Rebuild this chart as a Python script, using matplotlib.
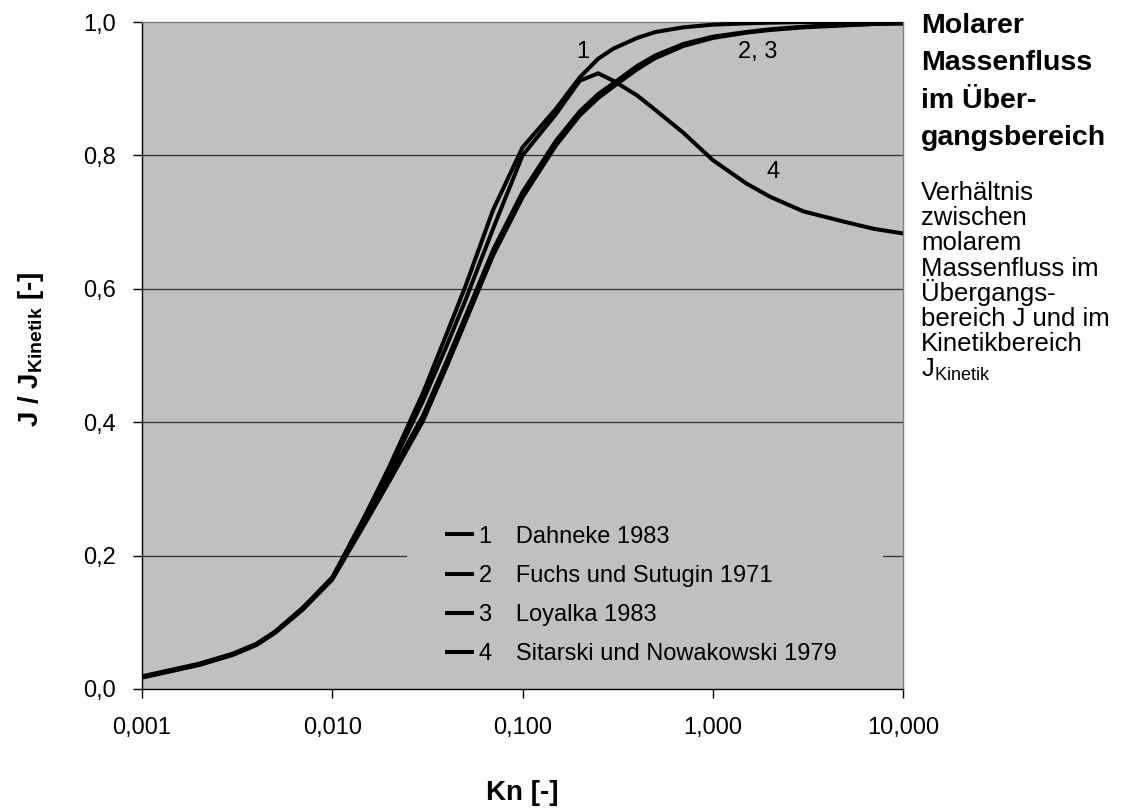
import matplotlib
matplotlib.use("Agg")
import matplotlib.pyplot as plt
from matplotlib.ticker import FixedLocator, FuncFormatter, NullLocator
from matplotlib.patches import Rectangle
from matplotlib.lines import Line2D

plt.rcParams["font.family"] = ["Liberation Sans", "DejaVu Sans"]
plt.rcParams["mathtext.fontset"] = "custom"
plt.rcParams["mathtext.rm"] = "Liberation Sans"
plt.rcParams["mathtext.bf"] = "Liberation Sans:bold"
plt.rcParams["mathtext.it"] = "Liberation Sans:italic"

# Knudsen numbers and flux ratios J / J_Kinetik for the four models
kn = [0.001, 0.002, 0.003, 0.004, 0.005, 0.007, 0.01, 0.015, 0.02, 0.03, 0.04,
      0.05, 0.07, 0.1, 0.15, 0.2, 0.25, 0.3, 0.4, 0.5, 0.7, 1, 1.5, 2, 3, 5, 7, 10]

dahneke = [0.018, 0.037, 0.052, 0.067, 0.085, 0.121, 0.167, 0.262, 0.334, 0.444,
           0.533, 0.603, 0.718, 0.812, 0.870, 0.917, 0.945, 0.960, 0.976, 0.985,
           0.992, 0.996, 0.998, 0.999, 1.000, 1.000, 1.000, 1.000]
fuchs_sutugin = [0.019, 0.038, 0.053, 0.068, 0.086, 0.122, 0.167, 0.256, 0.319, 0.410,
                 0.492, 0.558, 0.658, 0.745, 0.822, 0.866, 0.892, 0.908, 0.934, 0.950,
                 0.967, 0.978, 0.985, 0.989, 0.993, 0.996, 0.997, 0.998]
loyalka = [0.017, 0.036, 0.051, 0.066, 0.084, 0.119, 0.164, 0.250, 0.312, 0.402,
           0.484, 0.550, 0.650, 0.737, 0.815, 0.860, 0.886, 0.903, 0.929, 0.946,
           0.964, 0.976, 0.984, 0.988, 0.992, 0.995, 0.997, 0.998]
sitarski = [0.018, 0.037, 0.052, 0.067, 0.085, 0.121, 0.166, 0.260, 0.328, 0.432,
            0.515, 0.582, 0.690, 0.800, 0.862, 0.912, 0.923, 0.912, 0.890, 0.868,
            0.834, 0.793, 0.758, 0.738, 0.716, 0.700, 0.690, 0.683]

series = [dahneke, fuchs_sutugin, loyalka, sitarski]
legend_names = ["Dahneke 1983", "Fuchs und Sutugin 1971", "Loyalka 1983",
                "Sitarski und Nowakowski 1979"]

x_ticks = [0.001, 0.01, 0.1, 1, 10]
y_ticks = [0.0, 0.2, 0.4, 0.6, 0.8, 1.0]

title_lines = ["Molarer", "Massenfluss", "im Über-", "gangsbereich"]
body_lines = ["Verhältnis", "zwischen", "molarem", "Massenfluss im", "Übergangs-",
              "bereich J und im", "Kinetikbereich", r"J$_{\mathrm{Kinetik}}$"]

SILVER = "#C0C0C0"
W, H = 1122, 808

fig = plt.figure(figsize=(W / 100, H / 100), dpi=100)
fig.patch.set_facecolor("white")
ax = fig.add_axes([142 / W, 119 / H, 761 / W, 667 / H])
ax.set_facecolor(SILVER)

ax.set_xscale("log")
ax.set_xlim(x_ticks[0], x_ticks[-1])
ax.set_ylim(y_ticks[0], y_ticks[-1])

# horizontal gridlines (inner ticks only)
for yv in y_ticks[1:-1]:
    ax.axhline(yv, color="#303030", lw=0.9, zorder=1)

# legend background hides the gridline behind it
ax.add_patch(Rectangle((0.348, 0.0), 0.626, 0.30, transform=ax.transAxes,
                       facecolor=SILVER, edgecolor="none", zorder=1.2))

for vals in series:
    ax.plot(kn, vals, color="black", lw=2.9, solid_joinstyle="miter",
            solid_capstyle="butt", zorder=3)

ax.xaxis.set_major_locator(FixedLocator(x_ticks))
ax.xaxis.set_minor_locator(NullLocator())
ax.xaxis.set_major_formatter(FuncFormatter(lambda v, p: f"{v:.3f}".replace(".", ",")))
ax.yaxis.set_major_locator(FixedLocator(y_ticks))
ax.yaxis.set_major_formatter(FuncFormatter(lambda v, p: f"{v:.1f}".replace(".", ",")))
ax.tick_params(axis="both", which="major", direction="out", length=6.5, width=1.0,
               color="black", labelsize=17)
ax.tick_params(axis="x", pad=14)
ax.tick_params(axis="y", pad=12)

for side in ("left", "bottom"):
    ax.spines[side].set_color("black")
    ax.spines[side].set_linewidth(1.0)
for side in ("top", "right"):
    ax.spines[side].set_color("#808080")
    ax.spines[side].set_linewidth(1.0)

ax.set_xlabel("Kn [-]", fontsize=20, fontweight="bold", labelpad=29)
ax.set_ylabel(r"J / J$_{\mathbf{Kinetik}}$ [-]", fontsize=20, fontweight="bold",
              labelpad=27)
ax.yaxis.label.set_y(0.51)

# curve numbers
ax.text(0.208, 0.955, "1", fontsize=17, ha="center", va="center", zorder=4)
ax.text(1.73, 0.955, "2, 3", fontsize=17, ha="center", va="center", zorder=4)
ax.text(2.07, 0.775, "4", fontsize=17, ha="center", va="center", zorder=4)

handles = [Line2D([], [], color="black", lw=2.9, solid_capstyle="butt") for _ in series]
labels = [f"{i + 1}\u2002\u2002{name}" for i, name in enumerate(legend_names)]
ax.legend(handles, labels, loc="upper left", bbox_to_anchor=(0.398, 0.245),
          frameon=False, fontsize=17, handlelength=1.25, handletextpad=0.2,
          labelspacing=0.73, borderpad=0, borderaxespad=0)

# side panel
for i, line in enumerate(title_lines):
    fig.text(921 / W, 1 - (33 + 37.3 * i) / H, line, fontsize=20.5,
             fontweight="bold", ha="left", va="baseline")
for i, line in enumerate(body_lines):
    fig.text(921 / W, 1 - (200 + 25.2 * i) / H, line, fontsize=18.5,
             ha="left", va="baseline")

fig.savefig("out.png", dpi=100)
